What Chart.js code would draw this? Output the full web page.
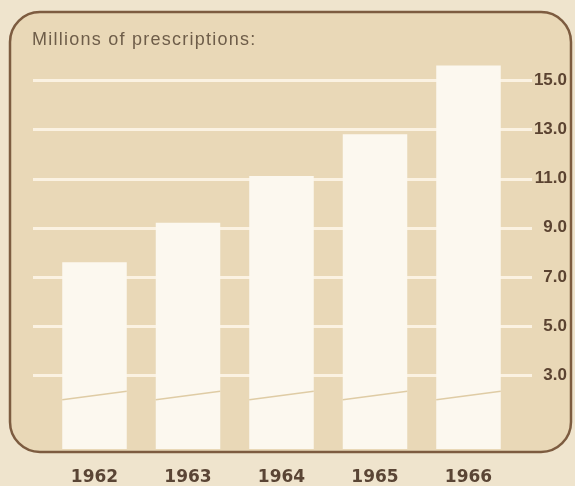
<!DOCTYPE html>
<html>
<head>
<meta charset="utf-8">
<script src="https://cdn.jsdelivr.net/npm/chart.js@4.4.1/dist/chart.umd.min.js"></script>
<style>
  html, body { margin: 0; padding: 0; background: #efe4cd; }
  #wrap { width: 575px; height: 486px; }
</style>
</head>
<body>
<div id="wrap"><canvas id="c" width="575" height="486"></canvas></div>
<script>
// ---- data ----
const years = ['1962', '1963', '1964', '1965', '1966'];
const prescriptions = [7.6, 9.2, 11.1, 12.8, 15.6];
const tickValues = [3, 5, 7, 9, 11, 13, 15];
const breakLeft = [2.0, 2.0, 2.0, 2.0, 2.0];
const breakRight = [2.35, 2.35, 2.35, 2.35, 2.35];
const titleText = 'Millions of prescriptions:';

// ---- styles ----
const OUTER = '#efe4cd', PANEL = '#e9d8b7', BAR = '#fcf8ef', GRID = '#fbf2e2',
      BORDER = '#7d5c40', BREAK = '#dfcca5', TICK = '#5b4331', YEAR = '#5a4535', TITLE = '#6e5d49';

function roundRect(ctx, x, y, w, h, r) {
  ctx.beginPath();
  ctx.moveTo(x + r, y);
  ctx.lineTo(x + w - r, y);
  ctx.arcTo(x + w, y, x + w, y + r, r);
  ctx.lineTo(x + w, y + h - r);
  ctx.arcTo(x + w, y + h, x + w - r, y + h, r);
  ctx.lineTo(x + r, y + h);
  ctx.arcTo(x, y + h, x, y + h - r, r);
  ctx.lineTo(x, y + r);
  ctx.arcTo(x, y, x + r, y, r);
  ctx.closePath();
}
const PX = 10, PY = 12, PW = 561, PH = 440, PR = 30;

const panelPlugin = {
  id: 'panel',
  beforeDraw(chart) {
    const ctx = chart.ctx;
    ctx.save();
    ctx.fillStyle = OUTER;
    ctx.fillRect(0, 0, chart.width, chart.height);
    roundRect(ctx, PX, PY, PW, PH, PR);
    ctx.fillStyle = PANEL;
    ctx.fill();
    ctx.fillStyle = TITLE;
    ctx.font = '18px "Liberation Sans", Arial, sans-serif';
    try { ctx.letterSpacing = '1.25px'; } catch (e) {}
    ctx.textBaseline = 'alphabetic';
    ctx.textAlign = 'left';
    ctx.fillText(titleText, 32, 45);
    ctx.restore();
  },
  beforeDatasetsDraw(chart) {
    const ctx = chart.ctx, y = chart.scales.y;
    ctx.save();
    ctx.strokeStyle = GRID;
    ctx.lineWidth = 3;
    tickValues.forEach(v => {
      const py = Math.round(y.getPixelForValue(v)) + 0.5;
      ctx.beginPath();
      ctx.moveTo(33, py);
      ctx.lineTo(532, py);
      ctx.stroke();
    });
    ctx.restore();
  },
  afterDatasetsDraw(chart) {
    const ctx = chart.ctx, y = chart.scales.y;
    const meta = chart.getDatasetMeta(0);
    ctx.save();
    ctx.strokeStyle = BREAK;
    ctx.lineWidth = 1.6;
    meta.data.forEach((bar, i) => {
      const half = bar.width / 2;
      ctx.beginPath();
      ctx.moveTo(bar.x - half, y.getPixelForValue(breakLeft[i]));
      ctx.lineTo(bar.x + half, y.getPixelForValue(breakRight[i]));
      ctx.stroke();
    });
    roundRect(ctx, PX, PY, PW, PH, PR);
    ctx.strokeStyle = BORDER;
    ctx.lineWidth = 2.5;
    ctx.stroke();
    ctx.restore();
  }
};

new Chart(document.getElementById('c'), {
  type: 'bar',
  data: {
    labels: years,
    datasets: [{
      data: prescriptions,
      backgroundColor: BAR,
      borderWidth: 0,
      categoryPercentage: 1,
      barPercentage: 0.69
    }]
  },
  options: {
    responsive: false,
    animation: false,
    devicePixelRatio: 1,
    layout: { padding: { left: 47.75, right: 8, top: 31, bottom: 0 } },
    plugins: { legend: { display: false }, tooltip: { enabled: false }, title: { display: false } },
    scales: {
      x: {
        grid: { display: false, drawTicks: false },
        border: { display: false },
        ticks: {
          color: YEAR,
          padding: 18,
          font: { family: '"DejaVu Sans", Verdana, sans-serif', weight: 'bold', size: 17 }
        },
        afterFit(s) { s.height = 37; }
      },
      y: {
        position: 'right',
        min: 0,
        max: 17,
        grid: { display: false, drawTicks: false },
        border: { display: false },
        afterBuildTicks(s) { s.ticks = tickValues.map(v => ({ value: v })); },
        ticks: {
          color: TICK,
          crossAlign: 'far',
          padding: 0,
          font: { family: '"Liberation Sans", Arial, sans-serif', weight: 'bold', size: 17 },
          callback: v => v.toFixed(1)
        },
        afterFit(s) { s.width = 51.75; }
      }
    }
  },
  plugins: [panelPlugin]
});
</script>
</body>
</html>
